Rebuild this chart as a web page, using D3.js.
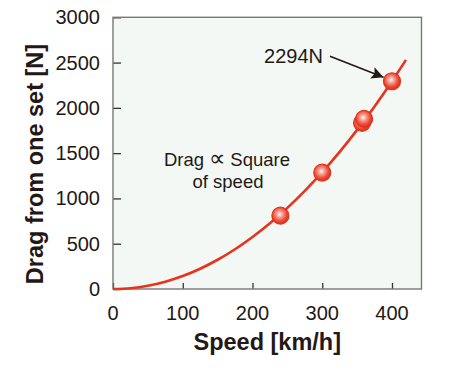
<!DOCTYPE html>
<html>
<head>
<meta charset="utf-8">
<script src="https://cdn.jsdelivr.net/npm/d3@7"></script>
<style>
	body{margin:0;background:#fff;}
	svg{display:block;font-family:"Liberation Sans",Arial,Helvetica,sans-serif;}
</style>
</head>
<body>
<div id="chart"></div>
<script>
// measured points (speed km/h, drag N)
var speeds=[240,300,357,360,400];
var drags=[810,1285,1835,1878,2294];
// drag ~ speed^2 curve
var curveSpeeds=[0,25,50,75,100,125,150,175,200,225,250,275,300,325,350,375,400,420];
var curveDrags=[0,9,36,81,143,224,323,439,574,726,896,1084,1290,1514,1757,2016,2294,2530];
var xTicks=[0,100,200,300,400];
var yTicks=[0,500,1000,1500,2000,2500,3000];
var xTitle="Speed [km/h]";
var yTitle="Drag from one set [N]";
var calloutText="2294N";

var W=450,H=371;
var mLeft=113,mRight=421.5,mTop=17.3,mBottom=289;
var ink="#231815";
var red="#e8321e";

var svg=d3.select("#chart").append("svg").attr("width",W).attr("height",H);

var x=d3.scaleLinear().domain([0,442.3]).range([mLeft,mRight]);
var y=d3.scaleLinear().domain([0,3000]).range([mBottom,mTop]);

var defs=svg.append("defs");
var grad=defs.append("radialGradient").attr("id","ball").attr("cx","45%").attr("cy","42%").attr("r","58%");
grad.append("stop").attr("offset","0%").attr("stop-color","#fff4f2");
grad.append("stop").attr("offset","30%").attr("stop-color","#f6a296");
grad.append("stop").attr("offset","70%").attr("stop-color","#ec4a36");
grad.append("stop").attr("offset","100%").attr("stop-color","#d7301c");

defs.append("marker").attr("id","head").attr("viewBox","0 0 10 10")
	.attr("refX",10).attr("refY",5).attr("markerWidth",17).attr("markerHeight",12)
	.attr("markerUnits","userSpaceOnUse").attr("orient","auto")
	.append("path").attr("d","M0,0L10,5L0,10L2,5Z").attr("fill",ink);

// plot background
svg.append("rect").attr("x",mLeft).attr("y",mTop).attr("width",mRight-mLeft).attr("height",mBottom-mTop)
	.attr("fill","#f3f8f4");

// axes with inward ticks
var yAxis=svg.append("g").attr("transform","translate("+mLeft+",0)")
	.call(d3.axisRight(y).tickValues(yTicks).tickSize(8).tickFormat(""));
var xAxis=svg.append("g").attr("transform","translate(0,"+mBottom+")")
	.call(d3.axisTop(x).tickValues(xTicks).tickSize(6).tickFormat(""));
[yAxis,xAxis].forEach(function(g){
	g.select(".domain").remove();
	g.selectAll("line").attr("stroke","#333").attr("stroke-width",1.3);
});

// frame
svg.append("rect").attr("x",mLeft).attr("y",mTop).attr("width",mRight-mLeft).attr("height",mBottom-mTop)
	.attr("fill","none").attr("stroke","#777").attr("stroke-width",1.4);

// tick labels
svg.selectAll("text.ylab").data(yTicks).enter().append("text").attr("class","ylab")
	.attr("x",mLeft-13).attr("y",function(d){return y(d)+7;})
	.attr("text-anchor","end").attr("font-size",20).attr("fill",ink)
	.text(function(d){return d;});
svg.selectAll("text.xlab").data(xTicks).enter().append("text").attr("class","xlab")
	.attr("x",function(d){return x(d);}).attr("y",mBottom+31)
	.attr("text-anchor","middle").attr("font-size",20).attr("fill",ink)
	.text(function(d){return d;});

// titles
svg.append("text").attr("x",(mLeft+mRight)/2).attr("y",350)
	.attr("text-anchor","middle").attr("font-size",23.5).attr("font-weight","bold").attr("fill",ink)
	.text(xTitle);
svg.append("text").attr("transform","translate(43,164) rotate(-90)")
	.attr("text-anchor","middle").attr("font-size",23.5).attr("font-weight","bold").attr("fill",ink)
	.text(yTitle);

// curve
var curveData=curveSpeeds.map(function(s,i){return [s,curveDrags[i]];});
var line=d3.line().x(function(d){return x(d[0]);}).y(function(d){return y(d[1]);}).curve(d3.curveMonotoneX);
svg.append("path").datum(curveData).attr("d",line)
	.attr("fill","none").attr("stroke",red).attr("stroke-width",2.6);

// points
var pts=speeds.map(function(s,i){return {s:s,d:drags[i]};});
svg.selectAll("circle.pt").data(pts).enter().append("circle").attr("class","pt")
	.attr("cx",function(d){return x(d.s);}).attr("cy",function(d){return y(d.d);}).attr("r",8.5)
	.attr("fill","url(#ball)").attr("stroke","#e2321c").attr("stroke-width",1.2);

// note text
var note1=svg.append("text").attr("x",227).attr("y",166)
	.attr("text-anchor","middle").attr("font-size",18.5).attr("fill",ink);
note1.append("tspan").text("Drag ");
note1.append("tspan").attr("font-family","'DejaVu Sans'").attr("font-weight",200).attr("font-size",23).text("\u221D");
note1.append("tspan").text(" Square");
svg.append("text").attr("x",228).attr("y",188)
	.attr("text-anchor","middle").attr("font-size",18.5).attr("fill",ink)
	.text("of speed");

// callout on last point
var last=pts[pts.length-1];
var px=x(last.s),py=y(last.d);
svg.append("line").attr("x1",px-62).attr("y1",py-25).attr("x2",px-8.5).attr("y2",py-4)
	.attr("stroke",ink).attr("stroke-width",1.6).attr("marker-end","url(#head)");
svg.append("text").attr("x",px-69).attr("y",py-18).attr("text-anchor","end")
	.attr("font-size",20).attr("fill",ink).text(calloutText);
</script>
</body>
</html>
